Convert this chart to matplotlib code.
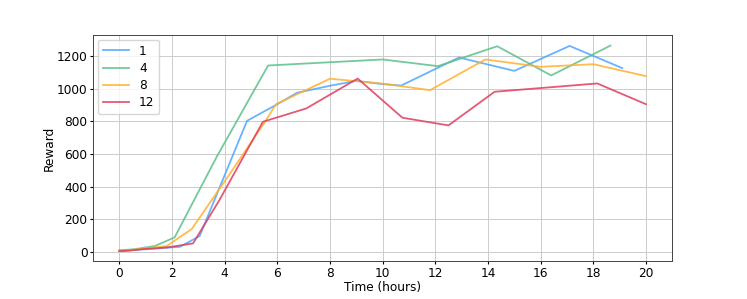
import matplotlib
matplotlib.use("Agg")
import matplotlib.pyplot as plt

# reward over time for each run
t_1 = [0.0, 0.7, 1.4, 2.3, 3.05, 4.85, 6.0, 6.75, 8.0, 9.0, 10.0, 10.7, 12.9, 15.0, 17.1, 19.1]
r_1 = [8, 14, 22, 32, 98, 804, 906, 976, 1019, 1049, 1029, 1020, 1192, 1110, 1263, 1127]

t_4 = [0.0, 0.6, 1.35, 2.1, 3.7, 5.65, 10.0, 12.1, 14.35, 16.4, 18.65]
r_4 = [10, 18, 37, 90, 584, 1143, 1180, 1139, 1261, 1082, 1265]

t_8 = [0.0, 0.9, 1.8, 2.75, 4.2, 5.5, 5.95, 8.0, 10.0, 11.8, 13.9, 16.0, 18.0, 20.0]
r_8 = [5, 20, 37, 141, 480, 790, 906, 1062, 1032, 992, 1180, 1135, 1151, 1078]

t_12 = [0.0, 0.35, 0.9, 1.8, 2.8, 3.8, 5.45, 7.1, 9.05, 10.75, 12.5, 14.25, 18.15, 20.0]
r_12 = [6, 8, 18, 28, 53, 318, 798, 880, 1063, 823, 776, 982, 1033, 906]

labels = ["1", "4", "8", "12"]
colors = ["#4da6ff", "#5cc08a", "#ffb02e", "#e03c5c"]

plt.rcParams["font.size"] = 8.7
plt.rcParams["xtick.major.size"] = 2.5
plt.rcParams["ytick.major.size"] = 2.5
plt.rcParams["xtick.major.pad"] = 1.8
plt.rcParams["ytick.major.pad"] = 1.5

fig = plt.figure(figsize=(7.47, 2.99), dpi=100)
ax = fig.add_axes([0.1245, 0.127, 0.7755, 0.756])

series = [(t_1, r_1), (t_4, r_4), (t_8, r_8), (t_12, r_12)]
for (t, r), lab, c in zip(series, labels, colors):
    ax.plot(t, r, color=c, lw=1.3, alpha=0.85, label=lab)

ax.set_xlim(-1, 21)
ax.set_ylim(-55, 1330)
ax.set_xticks(range(0, 21, 2))
ax.set_yticks(range(0, 1201, 200))
ax.grid(True, color="#cccccc", lw=0.7)
ax.set_axisbelow(True)
for s in ax.spines.values():
    s.set_color("#444444")
    s.set_linewidth(0.7)
ax.set_xlabel("Time (hours)", labelpad=1)
ax.set_ylabel("Reward", labelpad=1)
ax.legend(loc="upper left", handlelength=2.2, borderaxespad=0.4,
          labelspacing=0.35)

fig.savefig("out.png", dpi=100)
